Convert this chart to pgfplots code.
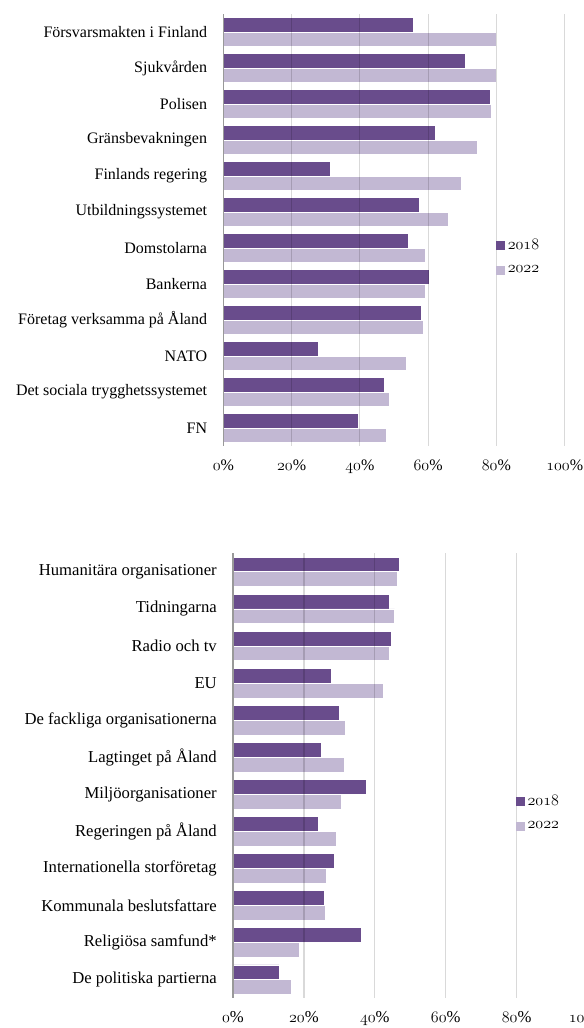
\documentclass[border=0pt]{standalone}
\usepackage{fontspec}
\setmainfont{Liberation Serif}
\usepackage{pgfplots}
\pgfplotsset{compat=1.18}

\definecolor{mork}{HTML}{694C8C}
\definecolor{ljus}{HTML}{C2B8D3}

% gemensam stil for bada diagrammen
\pgfplotsset{
  fortroende/.style={
    scale only axis,
    xbar, bar width=0.4,
    xmin=0, xmax=100,
    ymin=-0.5, ymax=11.5, y dir=reverse,
    ytick={0,...,11},
    xtick={0,20,...,100},
    xticklabel={$\mathnormal{\pgfmathprintnumber{\tick}}$\%},
    major tick length=0pt,
    xmajorgrids, axis on top,
    grid style={black, opacity=0.15, line width=0.9pt},
    axis x line*=bottom, axis y line*=left,
    x axis line style={draw=none},
    y axis line style={-, draw=black!40, line width=1pt},
    ticklabel style={font=\fontsize{#1}{#1}\selectfont},
    xticklabel style={anchor=base, yshift=-18pt},
    yticklabel style={anchor=east, inner sep=0pt, xshift=-12pt},
    legend style={draw=none, fill=none, inner sep=0pt, row sep=7pt,
      font=\fontsize{#1}{#1}\selectfont, anchor=north west},
    legend cell align=left,
  },
  ruta/.style={legend image code/.code={\fill[#1] (0pt,-3pt) rectangle (6pt,3pt);}},
}

\begin{document}
\begin{tikzpicture}
\useasboundingbox (0,0) rectangle (437.25pt,-771pt);

\begin{axis}[fortroende=12,
  at={(167.5pt,-10.5pt)}, anchor=north west,
  width=256pt, height=324pt,
  yticklabels={Försvarsmakten i Finland, Sjukvården, Polisen, Gränsbevakningen,
    Finlands regering, Utbildningssystemet, Domstolarna, Bankerna,
    Företag verksamma på Åland, NATO, Det sociala trygghetssystemet, FN},
  legend style={at={(0.799,0.486)}},
]
\addplot[fill=mork, draw=white, line width=0.6pt, bar shift=-0.2, ruta=mork]
  coordinates {(55.7,0) (70.9,1) (78.2,2) (62.1,3) (31.5,4) (57.3,5)
               (54.1,6) (60.4,7) (57.9,8) (27.9,9) (47.1,10) (39.6,11)};
\addplot[fill=ljus, draw=white, line width=0.6pt, bar shift=0.2, ruta=ljus]
  coordinates {(80.1,0) (79.9,1) (78.4,2) (74.4,3) (69.6,4) (65.9,5)
               (59.1,6) (59.1,7) (58.5,8) (53.5,9) (48.7,10) (47.9,11)};
\legend{$\mathnormal{2018}$, $\mathnormal{2022}$}
\end{axis}

\begin{axis}[fortroende=12.5,
  at={(174.75pt,-415pt)}, anchor=north west,
  width=265.9pt, height=333.75pt,
  yticklabels={Humanitära organisationer, Tidningarna, Radio och tv, EU,
    De fackliga organisationerna, Lagtinget på Åland, Miljöorganisationer,
    Regeringen på Åland, Internationella storföretag, Kommunala beslutsfattare,
    Religiösa samfund*, De politiska partierna},
  legend style={at={(0.798,0.464)}},
]
\addplot[fill=mork, draw=white, line width=0.6pt, bar shift=-0.2, ruta=mork]
  coordinates {(46.9,0) (44.0,1) (44.6,2) (27.8,3) (29.9,4) (25.0,5)
               (37.7,6) (24.1,7) (28.5,8) (25.9,9) (36.2,10) (13.0,11)};
\addplot[fill=ljus, draw=white, line width=0.6pt, bar shift=0.2, ruta=ljus]
  coordinates {(46.3,0) (45.6,1) (44.0,2) (42.4,3) (31.8,4) (31.4,5)
               (30.6,6) (29.3,7) (26.4,8) (26.2,9) (18.8,10) (16.6,11)};
\legend{$\mathnormal{2018}$, $\mathnormal{2022}$}
\end{axis}
\end{tikzpicture}
\end{document}
